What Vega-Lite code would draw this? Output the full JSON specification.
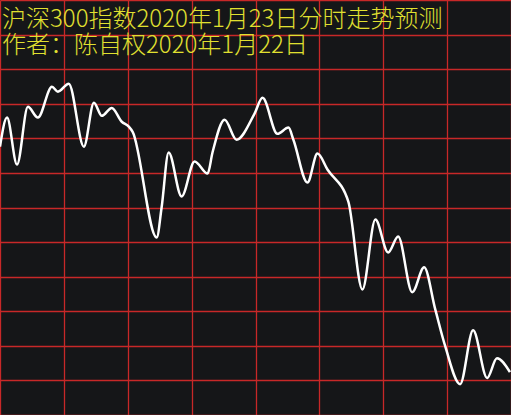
{
  "$schema": "https://vega.github.io/schema/vega-lite/v6.json",
  "width": 511,
  "height": 415,
  "autosize": {"type": "none"},
  "padding": 0,
  "background": "#151618",
  "config": {"view": {"stroke": null}},
  "title": {
    "text": ["沪深300指数2020年1月23日分时走势预测", "作者：陈自权2020年1月22日"],
    "anchor": "start",
    "frame": "group",
    "orient": "top",
    "baseline": "bottom",
    "offset": -82,
    "dx": 2,
    "font": "Noto Sans CJK SC",
    "fontSize": 24,
    "fontWeight": 300,
    "lineHeight": 26,
    "color": "#e0e030"
  },
  "data": {
    "values": [
      {"t": 0, "v": 4157.6},
      {"t": 3.3, "v": 4166.0},
      {"t": 8.0, "v": 4152.4},
      {"t": 13.1, "v": 4169.1},
      {"t": 17.8, "v": 4166.0},
      {"t": 24.4, "v": 4174.9},
      {"t": 27.2, "v": 4173.5},
      {"t": 32.3, "v": 4175.8},
      {"t": 39.4, "v": 4157.6},
      {"t": 44.1, "v": 4170.3},
      {"t": 47.8, "v": 4166.5},
      {"t": 52.5, "v": 4168.8},
      {"t": 57.2, "v": 4164.8},
      {"t": 60.5, "v": 4163.4},
      {"t": 62.3, "v": 4161.9},
      {"t": 73.6, "v": 4131.3},
      {"t": 75.9, "v": 4140.0},
      {"t": 79.2, "v": 4155.9},
      {"t": 85.3, "v": 4143.2},
      {"t": 91.4, "v": 4153.3},
      {"t": 97.5, "v": 4149.8},
      {"t": 99.8, "v": 4155.9},
      {"t": 105.5, "v": 4165.4},
      {"t": 111.1, "v": 4159.6},
      {"t": 119.5, "v": 4167.1},
      {"t": 123.3, "v": 4171.7},
      {"t": 130.3, "v": 4161.3},
      {"t": 135.5, "v": 4163.1},
      {"t": 137.8, "v": 4159.6},
      {"t": 144.4, "v": 4147.2},
      {"t": 149.1, "v": 4155.6},
      {"t": 153.8, "v": 4151.0},
      {"t": 163.6, "v": 4141.7},
      {"t": 170.2, "v": 4116.3},
      {"t": 176.3, "v": 4136.5},
      {"t": 182.3, "v": 4127.0},
      {"t": 187.0, "v": 4131.6},
      {"t": 193.6, "v": 4115.5},
      {"t": 199.2, "v": 4122.7},
      {"t": 204.4, "v": 4110.6},
      {"t": 209.1, "v": 4099.9},
      {"t": 216.1, "v": 4088.9},
      {"t": 222.2, "v": 4104.5},
      {"t": 228.8, "v": 4090.7},
      {"t": 233.4, "v": 4096.4},
      {"t": 239.5, "v": 4092.4}
    ]
  },
  "mark": {"type": "line", "color": "#ffffff", "strokeWidth": 2.5, "interpolate": "monotone"},
  "encoding": {
    "x": {
      "field": "t",
      "type": "quantitative",
      "scale": {"domain": [0, 240], "nice": false, "zero": false},
      "axis": {
        "values": [0, 30, 60, 90, 120, 150, 180, 210, 240],
        "grid": true,
        "gridColor": "#c82828",
        "gridOpacity": 1,
        "gridWidth": 1.3,
        "labels": false,
        "ticks": false,
        "domain": false,
        "title": null
      }
    },
    "y": {
      "field": "v",
      "type": "quantitative",
      "scale": {"domain": [4080, 4200], "nice": false, "zero": false},
      "axis": {
        "values": [4080, 4090, 4100, 4110, 4120, 4130, 4140, 4150, 4160, 4170, 4180, 4190, 4200],
        "grid": true,
        "gridColor": "#c82828",
        "gridOpacity": 1,
        "gridWidth": 1.3,
        "labels": false,
        "ticks": false,
        "domain": false,
        "title": null
      }
    }
  }
}
